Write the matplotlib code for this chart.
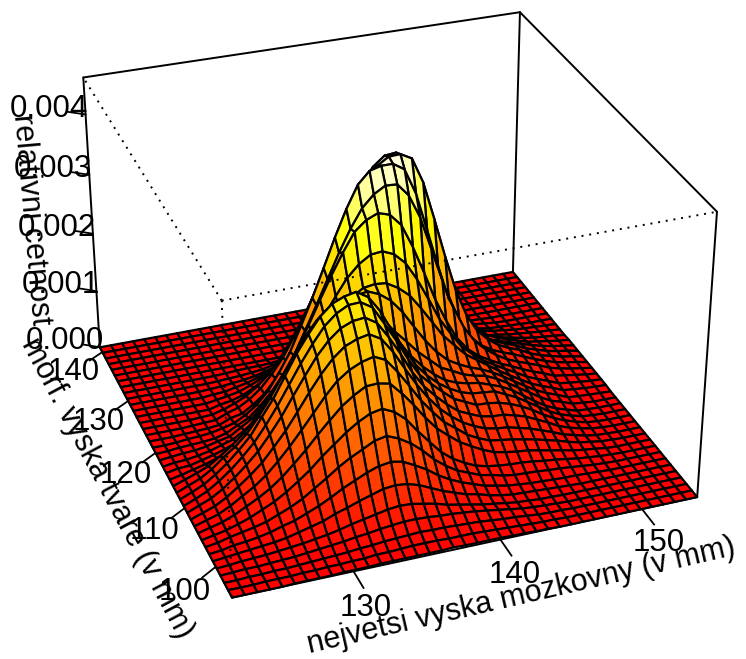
import numpy as np
import matplotlib
matplotlib.use("Agg")
import matplotlib.pyplot as plt
from matplotlib.colors import LinearSegmentedColormap, Normalize

plt.rcParams['font.family'] = ['Liberation Sans', 'DejaVu Sans']

W, H = 746, 659
x_range = (122.0, 154.0)
y_range = (95.0, 141.0)
z_range = (0.0, 0.0046)
x_ticks = [130, 140, 150]
y_ticks = [100, 110, 120, 130, 140]
z_ticks = [0.000, 0.001, 0.002, 0.003, 0.004]
x_title = "nejvetsi vyska mozkovny (v mm)"
y_title = "morf. vyska tvare (v mm)"
z_title = "relativni cetnost"
n_grid = 40

# density, in units of 1e-5; (first column, values) per row of the grid
density_rows = [
 (5,[1,1,1,1,2,2,2,3,3,3,3,3,3,4,3,3,3,3,2,2,1,1]),
 (3,[1,1,1,2,2,3,3,4,4,6,6,7,8,8,8,7,7,7,6,5,4,3,2,1,1]),
 (2,[1,1,2,2,3,4,5,6,7,9,10,12,13,14,15,14,14,13,12,11,9,7,6,4,2,1,1]),
 (1,[1,2,2,3,4,5,7,9,11,13,16,18,21,23,25,25,24,22,21,19,17,14,11,8,5,3,2,1]),
 (1,[1,3,4,5,7,9,11,14,17,21,26,30,34,38,40,39,35,31,25,21,17,13,10,7,4,3,1,1]),
 (1,[2,4,6,8,10,13,18,23,28,36,42,49,55,61,63,61,55,46,37,30,23,19,13,9,6,5,4,3,2,1]),
 (1,[2,6,8,11,15,21,26,34,42,52,63,72,81,88,91,87,77,66,52,41,32,25,18,14,10,8,6,5,4,3,3,2,1]),
 (1,[3,8,12,16,21,29,37,47,60,73,87,99,109,119,123,115,103,87,68,53,41,33,25,21,16,13,12,11,9,8,6,4,2,1]),
 (1,[4,8,14,21,30,39,51,65,80,98,114,130,143,153,157,148,132,108,86,65,50,39,30,25,22,20,19,17,14,12,9,6,4,2,1]),
 (1,[5,10,18,28,38,50,65,83,102,123,143,162,176,187,188,184,164,141,116,94,78,63,52,42,34,30,27,25,21,17,13,9,6,4,1]),
 (1,[6,12,22,34,46,61,80,101,124,148,172,193,207,216,221,212,189,162,134,111,90,76,61,51,43,40,37,33,29,24,19,13,8,5,2,1]),
 (1,[7,14,25,39,54,71,93,116,143,171,197,219,235,243,247,236,211,180,150,124,102,85,71,61,53,49,47,42,37,30,23,15,10,5,2,1]),
 (1,[8,16,28,43,60,79,103,129,159,188,216,238,254,262,264,252,225,194,160,133,113,95,80,71,63,59,58,53,47,38,29,19,12,7,3,1]),
 (1,[8,17,30,45,63,83,108,136,167,198,226,251,268,278,279,267,237,206,172,142,123,106,90,81,72,71,68,62,54,44,32,22,14,8,3,1]),
 (1,[8,17,30,45,63,83,111,138,171,204,232,257,274,282,286,274,248,212,180,149,127,110,97,87,81,79,77,68,59,47,35,23,14,8,3,1]),
 (1,[8,16,28,44,58,76,100,127,158,188,217,240,257,267,271,262,236,207,179,153,132,115,101,93,88,85,78,71,61,48,35,23,14,8,2,1]),
 (1,[7,14,22,35,49,65,86,110,137,165,192,214,234,245,252,247,231,210,187,167,146,129,112,103,93,87,83,74,63,51,39,27,17,11,4,2]),
 (1,[4,9,14,20,29,40,57,76,100,124,152,177,201,219,236,247,251,243,229,207,179,152,129,111,100,91,84,75,64,52,40,29,20,13,5,3,2,1]),
 (1,[4,5,10,15,21,29,42,57,76,98,122,147,171,194,218,235,247,250,248,237,221,196,169,142,122,103,90,77,64,52,41,30,22,15,7,5,3,2,1]),
 (1,[3,4,7,11,17,23,35,49,65,87,114,142,172,202,231,258,277,289,291,283,265,235,199,161,133,107,90,75,64,53,43,32,24,17,9,6,4,2,1]),
 (1,[2,4,5,8,13,17,29,41,60,82,111,144,181,219,256,290,320,336,344,338,318,279,233,185,145,111,88,73,62,52,44,35,27,20,12,9,6,3,1]),
 (1,[1,3,4,5,7,12,22,31,48,68,93,123,161,200,240,280,316,346,365,376,375,354,315,260,204,155,116,89,71,57,46,38,31,24,16,11,7,4,1]),
 (2,[1,3,4,6,10,15,25,39,59,87,119,160,203,249,296,339,375,394,399,399,387,345,282,218,159,116,86,68,56,48,41,33,25,18,12,8,5,1]),
 (3,[1,2,3,5,13,17,29,44,66,93,126,162,204,245,289,330,365,390,402,403,393,351,288,222,161,115,84,65,51,42,35,25,18,13,8,5,1]),
 (4,[1,2,3,11,17,28,43,64,89,121,156,195,235,278,317,353,380,395,397,374,332,270,207,150,106,78,60,48,40,33,24,18,12,8,5,1]),
 (5,[1,2,7,14,23,36,53,76,103,135,169,205,241,277,308,334,349,351,332,290,237,180,131,92,67,51,41,34,28,22,16,11,7,4,1]),
 (7,[5,8,14,23,36,50,68,87,109,132,158,185,214,240,263,276,282,269,238,194,148,108,75,55,40,31,24,18,12,9,6,3,1]),
 (7,[3,6,10,17,26,36,50,65,81,99,118,139,160,180,196,206,211,201,177,144,110,80,56,41,30,23,17,13,9,6,4,2]),
 (7,[2,3,7,11,17,24,33,43,54,66,79,94,109,123,135,142,145,138,121,99,75,54,38,27,21,15,12,9,7,5,3,2]),
 (7,[1,2,4,6,9,14,19,23,28,34,41,48,57,67,77,84,90,92,89,79,64,50,36,25,18,13,9,7,4,3,2,1]),
 (8,[1,2,3,5,7,11,14,16,20,24,28,34,39,44,49,52,53,51,45,37,28,20,14,10,7,4,3,2,1]),
 (9,[1,2,3,3,4,6,7,9,10,12,15,18,21,23,26,28,29,28,25,20,15,11,8,5,3,1]),
 (15,[1,2,3,5,6,8,10,12,14,15,15,14,12,10,7,5,3,2,1]),
 (17,[1,2,3,4,5,6,6,7,7,7,6,5,3,2,1]),
 (20,[1,1,2,2,3,3,3,2,2,1,1]),
 (23,[1,1,1,1,1,1]),
 (0,[]),
 (0,[]),
 (0,[]),
 (0,[]),
]

x_grid = np.linspace(*x_range, n_grid)
y_grid = np.linspace(*y_range, n_grid)
X, Y = np.meshgrid(x_grid, y_grid)
Z = np.zeros((n_grid, n_grid))
for j, (start, values) in enumerate(density_rows):
    Z[j, start:start + len(values)] = np.array(values) * 1e-5

# camera of the reference, fitted to where the box corners fall in the picture
corner_world = [(0,0,0),(1,0,0),(0,1,0),(1,1,0),(0,1,1),(1,1,1),(1,0,1),(0,0,1)]
corner_pixel = [(232,598),(697,497),(100,347),(513,272),(83,78),(520,12),(717,212),(222,300)]
A = []
for (sx, sy, sz), (u, v) in zip(corner_world, corner_pixel):
    A.append([sx,sy,sz,1,0,0,0,0,-u*sx,-u*sy,-u*sz,-u])
    A.append([0,0,0,0,sx,sy,sz,1,-v*sx,-v*sy,-v*sz,-v])
P = np.linalg.svd(np.array(A, float))[2][-1].reshape(3, 4)
if P[2, 3] < 0:
    P = -P
dx, dy, dz = x_range[1]-x_range[0], y_range[1]-y_range[0], z_range[1]-z_range[0]
Snorm = np.array([[1/dx,0,0,-x_range[0]/dx],[0,1/dy,0,-y_range[0]/dy],[0,0,1/dz,-z_range[0]/dz],[0,0,0,1]])
P4 = np.vstack([P[0], P[1], [0,0,0,-1], P[2]]) @ Snorm

def to_pixel(x, y, z):
    q = P4 @ np.array([x, y, z, 1.0])
    return q[0]/q[3], q[1]/q[3]

fig = plt.figure(figsize=(W/100, H/100), dpi=100)
ax = fig.add_axes([0, 0, 1, 1], projection='3d', computed_zorder=False)
ax.set_axis_off()

def camera():
    flip = np.array([[1,0,0],[0,-1,H],[0,0,1.0]])
    to_axes = ax.transData.inverted().get_matrix() @ flip
    T = np.eye(4)
    T[0, 0], T[0, 1], T[0, 3] = to_axes[0, 0], to_axes[0, 1], to_axes[0, 2]
    T[1, 0], T[1, 1], T[1, 3] = to_axes[1, 0], to_axes[1, 1], to_axes[1, 2]
    return T @ P4
ax.get_proj = camera

x0, x1 = x_range; y0, y1 = y_range; z0, z1 = z_range
box_style = dict(color='k', lw=1.4, clip_on=False, solid_capstyle='round')

# rear box edges, under the surface
for e in [((x0,y1,z0),(x0,y1,z1)), ((x0,y1,z1),(x1,y1,z1)), ((x1,y1,z1),(x1,y0,z1)),
          ((x1,y1,z0),(x1,y1,z1)), ((x1,y0,z0),(x1,y0,z1)),
          ((x0,y0,z0),(x1,y0,z0)), ((x0,y0,z0),(x0,y1,z0))]:
    ax.plot(*zip(*e), zorder=1, **box_style)

heat = LinearSegmentedColormap.from_list('heat', [(0,'#FF0000'),(0.75,'#FFFF00'),(1,'#FFFFE8')])
surf = ax.plot_surface(X, Y, Z, rcount=n_grid, ccount=n_grid, cmap=heat, norm=Normalize(0, Z.max()),
                       shade=False, edgecolor='k', linewidth=1.6, antialiased=True, zorder=2)
surf.set_clip_on(False)

# front box edges, dotted over the surface
for e in [((x0,y0,z1),(x0,y1,z1)), ((x0,y0,z1),(x1,y0,z1)), ((x0,y0,z0),(x0,y0,z1))]:
    ax.plot(*zip(*e), color='k', lw=1.4, linestyle=(0, (1, 3)), clip_on=False, zorder=3)

tick_style = dict(color='k', lw=1.3, clip_on=False, zorder=4)
label_style = dict(fontsize=22.5, ha='center', va='center', color='k')

def put_label(x, y, z, text):
    px, py = to_pixel(x, y, z)
    fig.text(px/W, 1-py/H, text, **label_style)

for t in x_ticks:
    ax.plot([t, t], [y0, y0-2.7], [0, 0], **tick_style)
    put_label(t-0.6, y0-5.6, 0, str(t))
for t in y_ticks:
    ax.plot([x0, x0-1.13], [t, t-1.16], [0, 0], **tick_style)
    put_label(x0-2.6, t-2.7, 0, str(t))
for t in z_ticks:
    ax.plot([x0, x0-1.05], [y1, y1+1.17], [t, t], **tick_style)
    put_label(x0-2.15, y1+2.4, t, f"{t:.3f}")

title_style = dict(fontsize=22, ha='center', va='center', rotation_mode='anchor', color='k')
fig.text(521/W, 1-596/H, x_title, rotation=13, **title_style)
fig.text(107/W, 1-488/H, y_title, rotation=-62, **title_style)
fig.text(31/W, 1-220/H, z_title, rotation=-85, **title_style)

fig.savefig('out.png', dpi=100)
